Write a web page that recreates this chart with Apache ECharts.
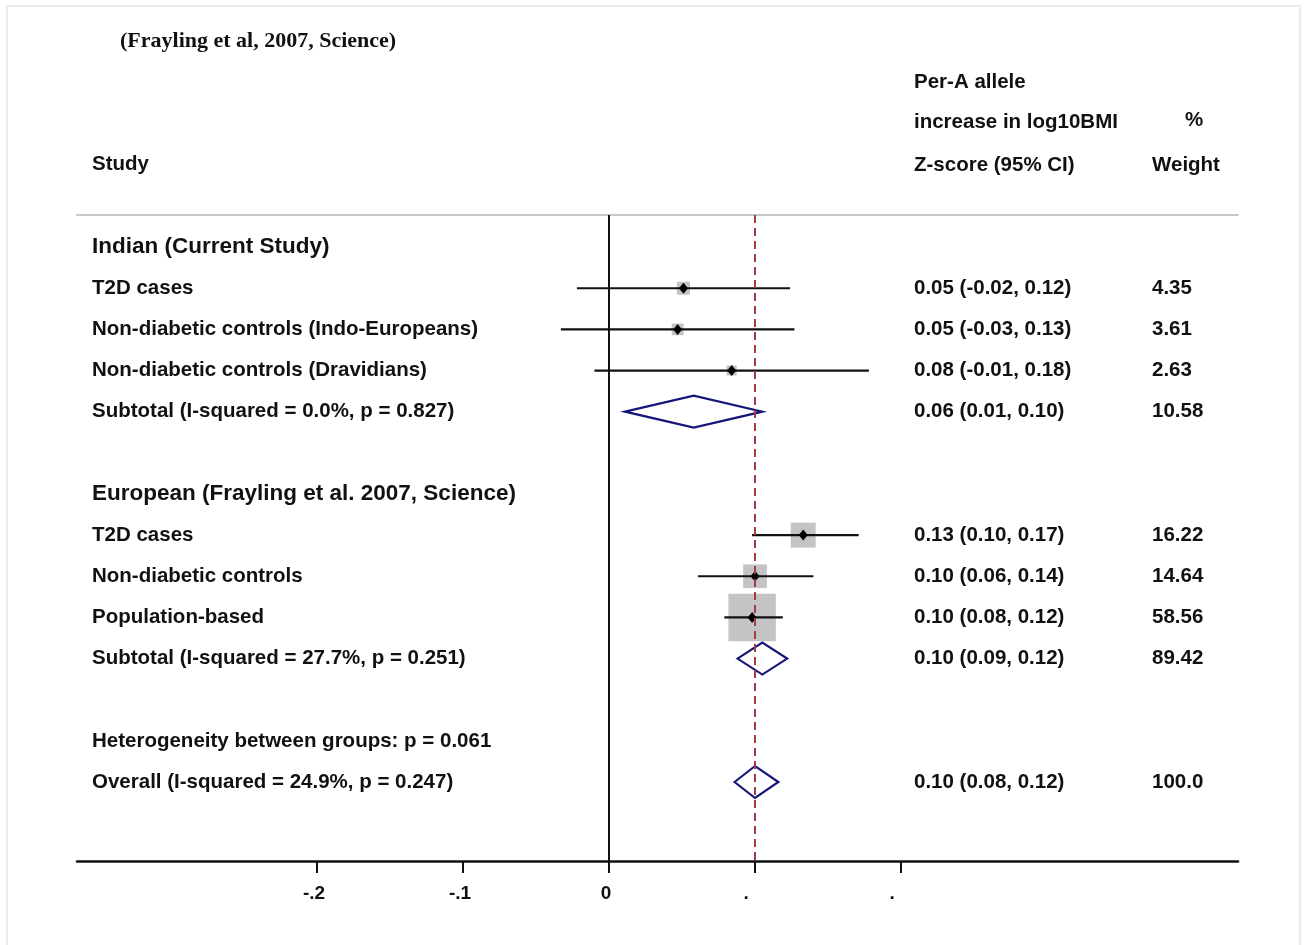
<!DOCTYPE html>
<html>
<head>
<meta charset="utf-8">
<title>Forest plot</title>
<script src="https://cdn.jsdelivr.net/npm/echarts@6/dist/echarts.min.js"></script>
<style>
  html, body { margin: 0; padding: 0; background: #fff; }
  #chart { width: 1306px; height: 945px; }
</style>
</head>
<body>
<div id="chart"></div>
<script>
// row texts (row index = position from the top)
var studyLabels = [
  'Indian (Current Study)',
  'T2D cases',
  'Non-diabetic controls (Indo-Europeans)',
  'Non-diabetic controls (Dravidians)',
  'Subtotal (I-squared = 0.0%, p = 0.827)',
  '',
  'European (Frayling et al. 2007, Science)',
  'T2D cases',
  'Non-diabetic controls',
  'Population-based',
  'Subtotal (I-squared = 27.7%, p = 0.251)',
  '',
  'Heterogeneity between groups: p = 0.061',
  'Overall (I-squared = 24.9%, p = 0.247)'
];
var ciTexts = ['', '0.05 (-0.02, 0.12)', '0.05 (-0.03, 0.13)', '0.08 (-0.01, 0.18)', '0.06 (0.01, 0.10)', '',
  '', '0.13 (0.10, 0.17)', '0.10 (0.06, 0.14)', '0.10 (0.08, 0.12)', '0.10 (0.09, 0.12)', '',
  '', '0.10 (0.08, 0.12)'];
var weightTexts = ['', '4.35', '3.61', '2.63', '10.58', '', '', '16.22', '14.64', '58.56', '89.42', '', '', '100.0'];
var groupRows = [0, 6];

// individual studies
var studyRows = [1, 2, 3, 7, 8, 9];
var studyEst = [0.051, 0.047, 0.084, 0.133, 0.100, 0.098];
var studyLo = [-0.022, -0.033, -0.010, 0.098, 0.061, 0.079];
var studyHi = [0.124, 0.127, 0.178, 0.171, 0.140, 0.119];
var studyWeight = [4.35, 3.61, 2.63, 16.22, 14.64, 58.56];

// pooled estimates (diamonds)
var poolRows = [4, 10, 13];
var poolEst = [0.058, 0.105, 0.100];
var poolLo = [0.011, 0.088, 0.086];
var poolHi = [0.105, 0.122, 0.116];

var overallEffect = 0.1;
var tickValues = [-0.2, -0.1, 0, 0.1, 0.2];
var tickLabels = ['-.2', '-.1', '0', '.', '.'];

var FONT = '"Liberation Sans", Arial, sans-serif';

var chart = echarts.init(document.getElementById('chart'));

var studyData = studyRows.map(function (r, i) {
  return [r, studyEst[i], studyLo[i], studyHi[i], studyWeight[i]];
});
var poolData = poolRows.map(function (r, i) {
  return [r, poolEst[i], poolLo[i], poolHi[i]];
});
var textData = studyLabels.map(function (s, i) { return [i]; });

function renderStudy(params, api) {
  var row = api.value(0);
  var c = api.coord([api.value(1), row]);
  var lo = api.coord([api.value(2), row]);
  var hi = api.coord([api.value(3), row]);
  var s = 6.2 * Math.sqrt(api.value(4));
  return {
    type: 'group',
    children: [
      { type: 'rect', shape: { x: c[0] - s / 2, y: c[1] - s / 2, width: s, height: s },
        style: { fill: '#c4c4c4' } },
      { type: 'line', shape: { x1: lo[0], y1: lo[1], x2: hi[0], y2: hi[1] },
        style: { stroke: '#111', lineWidth: 2.2 } },
      { type: 'polygon', shape: { points: [[c[0] - 4.5, c[1]], [c[0], c[1] - 5.5], [c[0] + 4.5, c[1]], [c[0], c[1] + 5.5]] },
        style: { fill: '#000' } }
    ]
  };
}

function renderPool(params, api) {
  var row = api.value(0);
  var c = api.coord([api.value(1), row]);
  var lo = api.coord([api.value(2), row]);
  var hi = api.coord([api.value(3), row]);
  var h = 16;
  return {
    type: 'polygon',
    shape: { points: [[lo[0], c[1]], [c[0], c[1] - h], [hi[0], c[1]], [c[0], c[1] + h]] },
    style: { fill: 'rgba(0,0,0,0)', stroke: '#16167a', lineWidth: 2.2 }
  };
}

function renderText(params, api) {
  var row = api.value(0);
  var y = api.coord([0, row])[1];
  var big = groupRows.indexOf(row) >= 0;
  var base = { fill: '#111', fontFamily: FONT, fontWeight: 'bold', verticalAlign: 'middle' };
  return {
    type: 'group',
    children: [
      { type: 'text', x: 92, y: y, style: Object.assign({ text: studyLabels[row], fontSize: big ? 22.5 : 20.5 }, base) },
      { type: 'text', x: 914, y: y, style: Object.assign({ text: ciTexts[row], fontSize: 20.5 }, base) },
      { type: 'text', x: 1152, y: y, style: Object.assign({ text: weightTexts[row], fontSize: 20.5 }, base) }
    ]
  };
}

var headStyle = { fill: '#111', fontFamily: FONT, fontWeight: 'bold', fontSize: 20.5, verticalAlign: 'middle' };

var option = {
  backgroundColor: '#fff',
  animation: false,
  graphic: [
    { type: 'rect', shape: { x: 7, y: 6, width: 1293, height: 940 },
      style: { fill: 'none', stroke: '#e6edf0', lineWidth: 2 }, silent: true },
    { type: 'text', x: 120, y: 41, style: { text: '(Frayling et al, 2007, Science)', fill: '#111',
      fontFamily: '"Liberation Serif", "Times New Roman", serif', fontWeight: 'bold', fontSize: 22, verticalAlign: 'middle' } },
    { type: 'text', x: 92, y: 164, style: Object.assign({ text: 'Study' }, headStyle) },
    { type: 'text', x: 914, y: 82, style: Object.assign({ text: 'Per-A allele' }, headStyle) },
    { type: 'text', x: 914, y: 122, style: Object.assign({ text: 'increase in log10BMI' }, headStyle) },
    { type: 'text', x: 914, y: 165, style: Object.assign({ text: 'Z-score (95% CI)' }, headStyle) },
    { type: 'text', x: 1194, y: 120, style: Object.assign({ text: '%', align: 'center' }, headStyle) },
    { type: 'text', x: 1152, y: 165, style: Object.assign({ text: 'Weight' }, headStyle) }
  ],
  grid: { left: 77, right: 68, top: 215, bottom: 84 },
  xAxis: [{
    type: 'value',
    position: 'bottom',
    min: -0.3644,
    max: 0.4308,
    splitLine: { show: false },
    axisLine: { show: true, onZero: false, lineStyle: { color: '#111', width: 2.5 } },
    axisTick: { show: true, customValues: tickValues, length: 12, lineStyle: { color: '#111', width: 2 } },
    axisLabel: {
      customValues: tickValues,
      margin: 23,
      color: '#111',
      fontFamily: FONT,
      fontWeight: 'bold',
      fontSize: 19,
      formatter: function (v) {
        var i = tickValues.findIndex(function (t) { return Math.abs(t - v) < 1e-9; });
        if (i < 0) return '';
        return tickLabels[i] === '.' ? '{dot|.}' : '{n|' + tickLabels[i] + '}';
      },
      rich: {
        n: { fontFamily: FONT, fontWeight: 'bold', fontSize: 19, color: '#111', padding: [0, 6, 0, 0] },
        dot: { fontFamily: FONT, fontWeight: 'bold', fontSize: 19, color: '#111', padding: [0, 18, 0, 0] }
      }
    }
  }, {
    type: 'value',
    position: 'top',
    min: -0.3644,
    max: 0.4308,
    splitLine: { show: false },
    axisLine: { show: true, onZero: false, lineStyle: { color: '#c8c8c8', width: 2 } },
    axisTick: { show: false },
    axisLabel: { show: false }
  }],
  yAxis: {
    type: 'value',
    inverse: true,
    min: -0.78,
    max: 14.92,
    show: false
  },
  series: [
    {
      type: 'custom',
      name: 'text',
      renderItem: renderText,
      data: textData,
      encode: { y: 0 },
      silent: true
    },
    {
      type: 'custom',
      name: 'studies',
      renderItem: renderStudy,
      data: studyData,
      encode: { x: [1, 2, 3], y: 0 },
      z: 3,
      markLine: {
        silent: true,
        symbol: 'none',
        label: { show: false },
        data: [
          { xAxis: 0, lineStyle: { color: '#111', width: 2, type: 'solid' } },
          { xAxis: overallEffect, lineStyle: { color: '#a83a48', width: 2, type: [8, 5] } }
        ]
      }
    },
    {
      type: 'custom',
      name: 'pooled',
      renderItem: renderPool,
      data: poolData,
      encode: { x: [1, 2, 3], y: 0 },
      z: 4
    }
  ]
};

chart.setOption(option);
</script>
</body>
</html>
